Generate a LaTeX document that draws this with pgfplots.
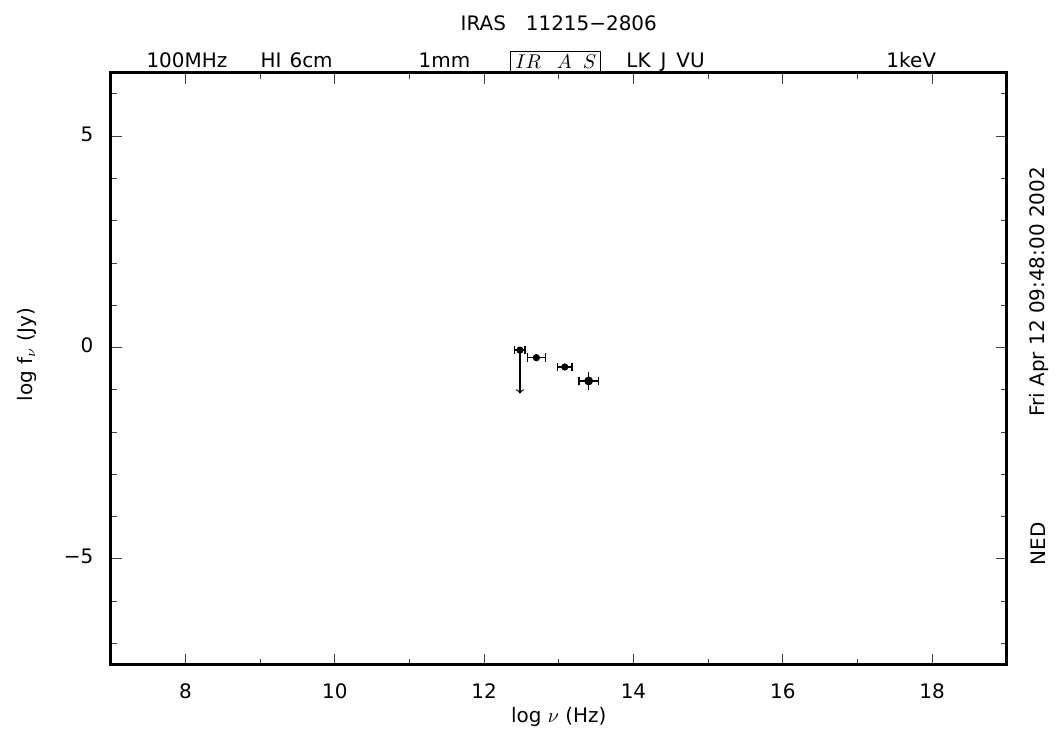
\documentclass[border=0pt]{standalone}
\usepackage{fontspec}
\setmainfont{DejaVu Sans}
\usepackage{pgfplots}
\pgfplotsset{compat=1.18}
\begin{document}
\fontsize{10pt}{12pt}\selectfont
\begin{tikzpicture}
\begin{axis}[
  scale only axis, width=449pt, height=296.5pt,
  xmin=7, xmax=19, ymin=-7.5, ymax=6.5,
  axis line style={line width=1.5pt},
  xtick={8,10,12,14,16,18}, xticklabels={8,10,12,14,16,18},
  minor xtick={9,11,13,15,17},
  ytick={-5,0,5}, yticklabels={−5,0,5},
  minor ytick={-7,-6,-4,-3,-2,-1,1,2,3,4,6},
  tick style={line width=0.5pt, black!75},
  major tick length=5.5pt, minor tick length=3pt,
  tick align=inside,
  typeset ticklabels with strut,
  xticklabel style={yshift=-5.2pt},
  yticklabel style={xshift=-5.2pt},
  clip=false,
  xlabel={log $\nu$ (Hz)},
  ylabel={log f$_{\nu}$ (Jy)},
  x label style={at={(axis description cs:0.5,-0.088)}, anchor=center},
  y label style={at={(axis description cs:-0.094,0.524)}, anchor=center},
]
% x error bars (IRAS points)
\addplot[only marks, mark=*, mark size=1.6pt, black,
  error bars/.cd, x dir=both, x explicit,
  error bar style={line width=0.75pt},
  error mark options={rotate=90, mark size=2.2pt, line width=0.75pt}]
  coordinates {
  (12.48,-0.06) +- (0.07,0)
  (12.70,-0.24) +- (0.12,0)
  (13.08,-0.46) +- (0.10,0)
  (13.40,-0.79) +- (0.13,0)
};
% y error bar of the 12 micron point
\addplot[only marks, mark=none, black,
  error bars/.cd, y dir=both, y explicit,
  error bar style={line width=0.75pt},
  error mark options={mark size=2.2pt, line width=0.75pt}]
  coordinates {
  (13.40,-0.79) +- (0,0.10)
};
% upper limit arrow
\addplot[black, line width=0.6pt, -to, quiver={u=0, v=-1.03}]
  coordinates {(12.48,-0.06)};

% top band labels
\node[anchor=base] at (axis cs:8.02,6.62) {100MHz};
\node[anchor=base] at (axis cs:9.49,6.62) {HI\hspace{4pt}6cm};
\node[anchor=base] at (axis cs:11.47,6.62) {1mm};
\node[draw, line width=0.6pt, anchor=south, minimum width=45pt, minimum height=10.5pt, inner sep=0pt]
  at (axis cs:12.96,6.5) {$IR\hspace{8pt}A\hspace{5.5pt}S$};
\node[anchor=base] at (axis cs:14.43,6.62) {LK\hspace{5pt}J\hspace{5pt}VU};
\node[anchor=base] at (axis cs:17.72,6.62) {1keV};
% title
\node[anchor=base] at (axis cs:13.0,7.51) {IRAS\quad 11215−2806};
% right side texts
\node[rotate=90, anchor=center] at (axis description cs:1.0356,0.204) {NED};
\node[rotate=90, anchor=center] at (axis description cs:1.0356,0.63) {Fri Apr 12 09:48:00 2002};
\end{axis}
\path ([xshift=-55.5pt,yshift=-32.5pt]current axis.south west)
  rectangle ([xshift=23pt,yshift=36.5pt]current axis.north east);
\end{tikzpicture}
\end{document}
